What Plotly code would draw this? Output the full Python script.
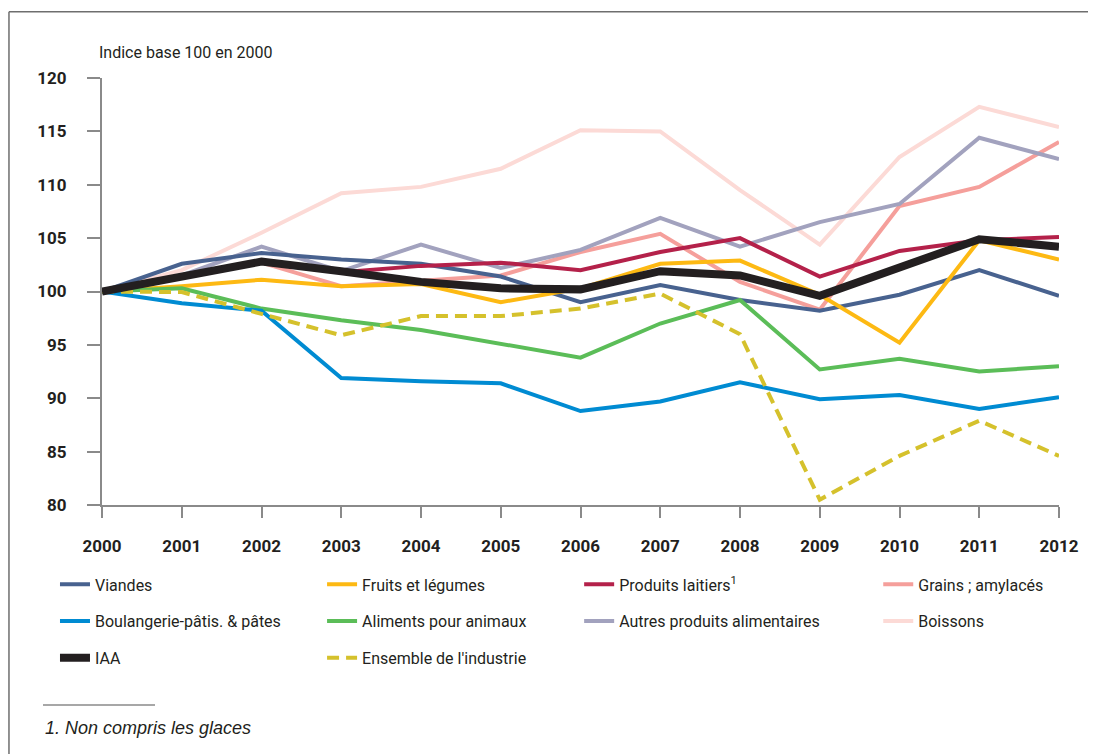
import plotly.graph_objects as go

years = list(range(2000, 2013))

viandes      = [100, 102.6, 103.6, 103.0, 102.6, 101.4, 99.0, 100.6, 99.2, 98.2, 99.7, 102.0, 99.6]
fruits       = [100, 100.5, 101.1, 100.5, 100.7, 99.0, 100.3, 102.6, 102.9, 99.7, 95.2, 104.8, 103.0]
laitiers     = [100, 101.5, 102.7, 101.8, 102.4, 102.7, 102.0, 103.7, 105.0, 101.4, 103.8, 104.8, 105.1]
grains       = [100, 101.5, 102.7, 100.5, 101.0, 101.5, 103.7, 105.4, 100.9, 98.3, 108.0, 109.8, 114.0]
boulangerie  = [100, 98.9, 98.2, 91.9, 91.6, 91.4, 88.8, 89.7, 91.5, 89.9, 90.3, 89.0, 90.1]
aliments     = [100, 100.3, 98.4, 97.3, 96.4, 95.1, 93.8, 97.0, 99.2, 92.7, 93.7, 92.5, 93.0]
autres       = [100, 101.5, 104.2, 101.9, 104.4, 102.2, 103.9, 106.9, 104.2, 106.5, 108.2, 114.4, 112.4]
boissons     = [100, 102.0, 105.5, 109.2, 109.8, 111.5, 115.1, 115.0, 109.5, 104.4, 112.6, 117.3, 115.4]
iaa          = [100, 101.4, 102.8, 101.9, 100.9, 100.3, 100.2, 101.9, 101.5, 99.6, 102.2, 104.9, 104.2]
ensemble     = [100, 99.95, 97.9, 95.9, 97.7, 97.7, 98.4, 99.8, 96.0, 80.5, 84.6, 87.9, 84.6]

y_ticks = [80, 85, 90, 95, 100, 105, 110, 115, 120]

FONT = "Roboto, Liberation Sans, sans-serif"
TXT = "#231F20"

# (name, values, color, width, dash, legend, rank)
series = [
    ("Boissons", boissons, "#FCDAD6", 4, "solid", "legend4", 2),
    ("Grains ; amylacés", grains, "#F59F9B", 4, "solid", "legend4", 1),
    ("Autres produits alimentaires", autres, "#A2A2BE", 4, "solid", "legend3", 2),
    ("Viandes", viandes, "#48628F", 4, "solid", "legend", 1),
    ("Produits laitiers<sup>1</sup>", laitiers, "#B4214A", 4, "solid", "legend3", 1),
    ("Fruits et légumes", fruits, "#FDB913", 4, "solid", "legend2", 1),
    ("Aliments pour animaux", aliments, "#5BBD58", 4, "solid", "legend2", 2),
    ("Boulangerie-pâtis. & pâtes", boulangerie, "#008BD2", 4, "solid", "legend", 2),
    ("Ensemble de l'industrie", ensemble, "#D5C12C", 4, "12px,7px", "legend2", 3),
    ("IAA", iaa, "#231F20", 8, "solid", "legend", 3),
]

fig = go.Figure()
for i, (name, vals, color, w, dash, leg, rank) in enumerate(series):
    fig.add_trace(go.Scatter(
        x=years, y=vals, mode="lines", name=name,
        line=dict(color=color, width=w, dash=dash),
        legend=leg, legendrank=rank, legendgroup=f"g{i}",
    ))

# page has an 8px body margin; work in page coordinates
OFF = 8
W, H = 1088, 746
plot_left, plot_right, plot_top, plot_bottom = 102, 1058.7, 77.5, 505.5
L = plot_left - OFF
R = W - (plot_right - OFF)
T = plot_top - OFF
B = H - (plot_bottom - OFF)
pw, ph = W - L - R, H - T - B

def px(x):
    return (x - OFF - L) / pw

def py(y):
    return (H - B - (y - OFF)) / ph

leg_common = dict(
    orientation="v", xanchor="left", yanchor="top",
    font=dict(family=FONT, size=16, color=TXT),
    bgcolor="rgba(0,0,0,0)", traceorder="grouped", tracegroupgap=13,
    itemwidth=30, xref="paper", yref="paper",
)
text_x = [95, 362, 619, 918]
legs = {}
for k, tx in zip(["legend", "legend2", "legend3", "legend4"], text_x):
    legs[k] = dict(leg_common, x=px(tx - 40), y=py(568))

fig.update_layout(
    width=W, height=H,
    margin=dict(l=L, r=R, t=T, b=B),
    paper_bgcolor="white", plot_bgcolor="white",
    font=dict(family=FONT, size=16, color=TXT),
    showlegend=True,
    **legs,
    xaxis=dict(
        range=[2000, 2012], tickmode="array", tickvals=years,
        ticktext=[str(y) for y in years],
        showline=True, linecolor="#8A8A8A", linewidth=2,
        ticks="outside", ticklen=11, tickwidth=1.5, tickcolor="#8A8A8A",
        showgrid=False, zeroline=False,
        tickfont=dict(family=FONT, size=17, color=TXT, weight="bold"),
        ticklabelstandoff=14,
    ),
    yaxis=dict(
        range=[80, 120], tickmode="array", tickvals=y_ticks,
        showline=True, linecolor="#8A8A8A", linewidth=2,
        ticks="outside", ticklen=13, tickwidth=1.5, tickcolor="#8A8A8A",
        showgrid=False, zeroline=False,
        tickfont=dict(family=FONT, size=17, color=TXT, weight="bold"),
        ticklabelstandoff=17,
    ),
    shapes=[
        dict(type="line", xref="paper", yref="paper", x0=px(9), x1=px(1100), y0=py(11), y1=py(11),
             line=dict(color="#6E6E6E", width=1.5)),
        dict(type="line", xref="paper", yref="paper", x0=px(9), x1=px(9), y0=py(11), y1=py(760),
             line=dict(color="#6E6E6E", width=1.5)),
        dict(type="line", xref="paper", yref="paper", x0=px(43), x1=px(155), y0=py(706), y1=py(706),
             line=dict(color="#8A8A8A", width=1.5)),
    ],
    annotations=[
        dict(text="Indice base 100 en 2000", xref="paper", yref="paper", x=px(97), y=py(52),
             xanchor="left", yanchor="middle", showarrow=False,
             font=dict(family=FONT, size=16, color=TXT)),
        dict(text="<i>1. Non compris les glaces</i>", xref="paper", yref="paper", x=px(43), y=py(729),
             xanchor="left", yanchor="middle", showarrow=False,
             font=dict(family="Liberation Sans, Arial, sans-serif", size=18, color=TXT)),
    ],
)

fig.write_html("out.html")
